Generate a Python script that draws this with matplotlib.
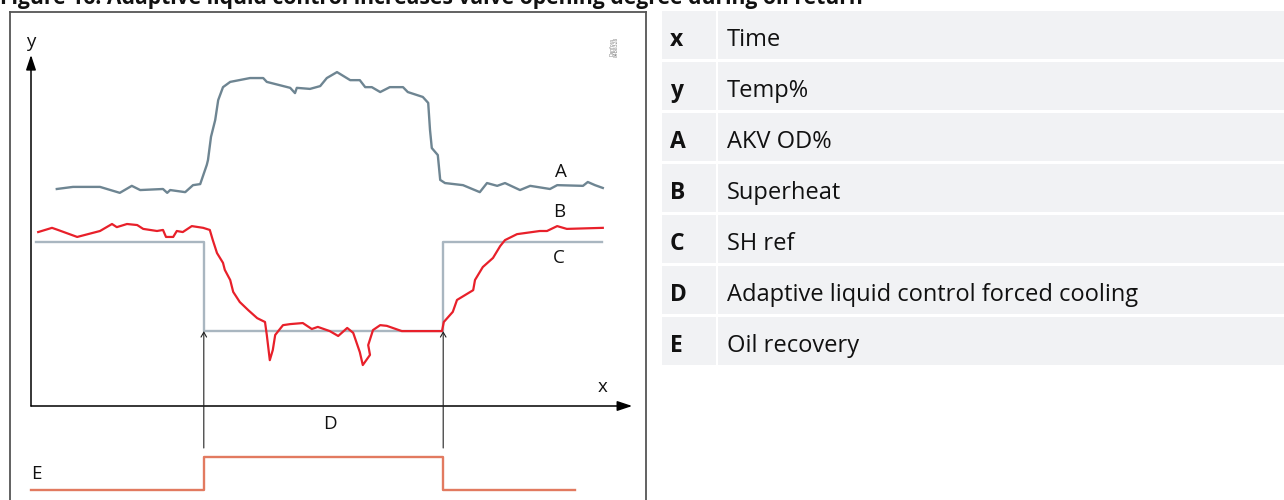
import matplotlib.pyplot as plt
from matplotlib.patches import Rectangle

plt.rcParams['font.family'] = ['Open Sans', 'DejaVu Sans']

# ---- data (time units 0..100, value in Temp% units) ----
a_time = [4.3, 7.0, 11.5, 14.8, 16.8, 18.2, 22.0, 22.7, 23.2, 25.7, 27.0, 28.2,
          29.3, 29.5, 30.0, 30.7, 31.2, 32.0, 33.2, 36.5, 38.7, 39.3, 43.2, 44.0,
          44.3, 46.5, 48.2, 49.3, 51.0, 53.2, 54.8, 55.7, 56.8, 58.2, 59.8, 62.0,
          62.8, 65.3, 66.2, 66.5, 66.8, 67.8, 68.2, 69.0, 72.0, 74.8, 76.0, 77.7,
          79.0, 81.5, 83.2, 86.5, 87.7, 92.0, 92.8, 94.0, 95.3]
a_value = [62.0, 62.6, 62.6, 60.9, 62.9, 61.7, 62.0, 60.9, 61.7, 61.1, 63.1, 63.4,
           68.9, 70.3, 76.9, 81.7, 87.4, 91.1, 92.6, 93.7, 93.7, 92.6, 90.9, 89.4,
           90.9, 90.6, 91.4, 93.7, 95.4, 93.1, 93.1, 91.1, 91.1, 89.7, 91.1, 91.1,
           89.7, 88.3, 86.6, 78.9, 73.7, 71.7, 64.6, 63.7, 63.1, 61.1, 63.7, 62.9,
           63.7, 61.7, 62.9, 62.0, 63.1, 62.9, 64.0, 63.1, 62.3]

b_time = [1.2, 3.5, 4.5, 7.7, 11.5, 13.5, 14.3, 16.0, 17.7, 18.7, 21.0, 22.0,
          22.5, 23.7, 24.3, 25.3, 26.8, 28.7, 29.8, 30.3, 31.0, 32.0, 32.3, 33.2,
          33.7, 34.8, 36.2, 37.7, 39.0, 39.3, 39.8, 40.3, 40.7, 42.0, 43.2, 45.3,
          46.8, 47.8, 49.8, 50.3, 51.2, 52.7, 53.7, 54.8, 55.3, 56.5, 56.2, 57.0,
          58.2, 59.3, 61.8, 68.5, 68.8, 70.3, 71.0, 73.7, 74.0, 75.3, 77.0, 78.2,
          79.0, 81.0, 84.8, 86.0, 87.7, 89.3, 95.3]
b_value = [49.7, 50.9, 50.3, 48.3, 50.0, 52.0, 51.1, 52.0, 51.7, 50.6, 50.0, 50.3,
           48.3, 48.3, 50.0, 49.7, 51.4, 50.9, 50.3, 47.4, 43.7, 40.9, 38.9, 36.0,
           32.6, 29.7, 27.4, 25.1, 24.0, 20.3, 13.1, 16.0, 20.3, 23.1, 23.4, 23.7,
           22.0, 22.6, 21.4, 20.9, 20.0, 22.3, 20.9, 15.4, 11.7, 14.6, 17.4, 21.7,
           23.1, 22.9, 21.4, 21.4, 24.0, 26.9, 30.3, 33.1, 36.0, 39.7, 42.3, 45.7,
           47.4, 49.1, 50.0, 50.0, 51.4, 50.6, 50.9]

c_time = [0.8, 28.8, 68.7, 95.2]
c_value = [46.9, 21.4, 46.9, 46.9]

e_time = [0.0, 28.8, 68.7, 90.7]
e_state = [0, 1, 0, 0]

keys = ['x', 'y', 'A', 'B', 'C', 'D', 'E']
descriptions = ['Time', 'Temp%', 'AKV OD%', 'Superheat', 'SH ref',
                'Adaptive liquid control forced cooling', 'Oil recovery']

title = 'Figure 16: Adaptive liquid control increases valve opening degree during oil return'

W, H = 1284, 500
fig = plt.figure(figsize=(W / 100, H / 100), dpi=100)


def px_axes(x0, y0, x1, y1):
    # axes rectangle given in pixel coordinates (top-left origin)
    return fig.add_axes([x0 / W, 1 - y1 / H, (x1 - x0) / W, (y1 - y0) / H])


# ---- main diagram ----
ax = px_axes(10, 12, 646, 500)
ax.set_xlim(-3.5, 102.5)
ax.set_ylim(-26.857, 112.571)
ax.set_xticks([])
ax.set_yticks([])
ax.patch.set_alpha(0)
for s in ['left', 'top', 'right']:
    ax.spines[s].set_color('#555555')
    ax.spines[s].set_linewidth(1.3)
ax.spines['bottom'].set_visible(False)

ax.plot(a_time, a_value, color='#6e8592', lw=1.7, solid_joinstyle='round', zorder=3)
ax.plot(c_time, c_value, color='#a9b6c0', lw=1.7, drawstyle='steps-post', zorder=2)
ax.plot(b_time, b_value, color='#e8202a', lw=1.6, solid_joinstyle='round', zorder=4)

# axes arrows
ax.annotate('', xy=(0, 100.3), xytext=(0, 0),
            arrowprops=dict(arrowstyle='-|>,head_length=0.9,head_width=0.3',
                            color='black', lw=1.1, shrinkA=0, shrinkB=0))
ax.annotate('', xy=(100.2, 0), xytext=(0, 0),
            arrowprops=dict(arrowstyle='-|>,head_length=0.9,head_width=0.3',
                            color='black', lw=1.1, shrinkA=0, shrinkB=0))

# thin markers for the forced cooling period
for t in [c_time[1], c_time[2]]:
    ax.annotate('', xy=(t, c_value[1]), xytext=(t, -12),
                arrowprops=dict(arrowstyle='->,head_length=0.35,head_width=0.2',
                                color='#222222', lw=0.8, shrinkA=0, shrinkB=0))

lab = dict(fontsize=13.5, color='#111111', ha='center', va='center')
ax.text(0, 104, 'y', **lab)
ax.text(95.3, 5.4, 'x', **lab)
ax.text(88.3, 66.9, 'A', **lab)
ax.text(88.0, 55.4, 'B', **lab)
ax.text(88.0, 42.3, 'C', **lab)
ax.text(49.8, -5.1, 'D', **lab)
ax.text(0.9, -19.4, 'E', **lab)
ax.text(97.2, 102.5, 'Danfoss\n84B8328', fontsize=3.5, color='#777777',
        rotation=90, ha='center', va='center', linespacing=1.0)

# ---- oil recovery signal ----
ax_e = px_axes(10, 450, 646, 495)
ax_e.set_xlim(-3.5, 102.5)
ax_e.set_ylim(-0.1515, 1.212)
ax_e.axis('off')
ax_e.plot(e_time, e_state, color='#e27a60', lw=1.7, drawstyle='steps-post')

# ---- key table ----
tab = px_axes(662, 11, 1284, 366)
tab.set_xlim(0, 622)
tab.set_ylim(355, 0)
tab.axis('off')
for i, (k, d) in enumerate(zip(keys, descriptions)):
    top = 51 * i
    tab.add_patch(Rectangle((0, top), 54, 48, color='#f1f2f4', lw=0))
    tab.add_patch(Rectangle((56, top), 566, 48, color='#f1f2f4', lw=0))
    tab.text(8, top + 35, k, fontsize=16.5, fontweight='bold', color='#111111', va='baseline')
    tab.text(65, top + 35, d, fontsize=17, color='#111111', va='baseline')

fig.text(0, 1 - 4 / H, title, fontsize=15.2, fontweight='bold', color='#111111',
         ha='left', va='baseline')

fig.savefig('out.png', dpi=100)
